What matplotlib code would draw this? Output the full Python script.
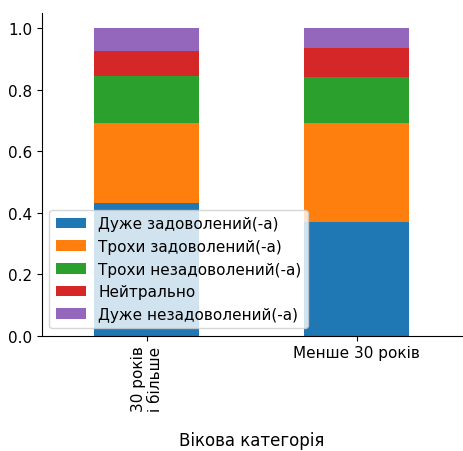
import matplotlib.pyplot as plt
import numpy as np

categories = ["30 років\nі більше", "Менше 30 років"]
labels = ["Дуже задоволений(-а)", "Трохи задоволений(-а)", "Трохи незадоволений(-а)",
          "Нейтрально", "Дуже незадоволений(-а)"]
values = {
    "Дуже задоволений(-а)": [0.43, 0.37],
    "Трохи задоволений(-а)": [0.26, 0.32],
    "Трохи незадоволений(-а)": [0.155, 0.15],
    "Нейтрально": [0.08, 0.095],
    "Дуже незадоволений(-а)": [0.075, 0.065],
}
colors = ["#1f77b4", "#ff7f0e", "#2ca02c", "#d62728", "#9467bd"]

fig, ax = plt.subplots(figsize=(4.64, 4.52), dpi=100)
x = np.arange(len(categories))
bottom = np.zeros(len(categories))
for lab, c in zip(labels, colors):
    v = np.array(values[lab])
    ax.bar(x, v, 0.5, bottom=bottom, color=c, label=lab)
    bottom += v

ax.set_xticks(x)
ax.set_xticklabels(categories, fontsize=11)
ax.get_xticklabels()[0].set_rotation(90)
ax.tick_params(axis="y", labelsize=11)
ax.set_xlabel("Вікова категорія", fontsize=12, labelpad=14)
ax.set_xlim(-0.5, 1.5)
ax.legend(loc="lower left", fontsize=11, framealpha=0.8)
ax.spines["top"].set_visible(False)
ax.spines["right"].set_visible(False)
fig.subplots_adjust(left=0.09, right=0.995, top=0.97, bottom=0.255)
fig.savefig("out.png")
